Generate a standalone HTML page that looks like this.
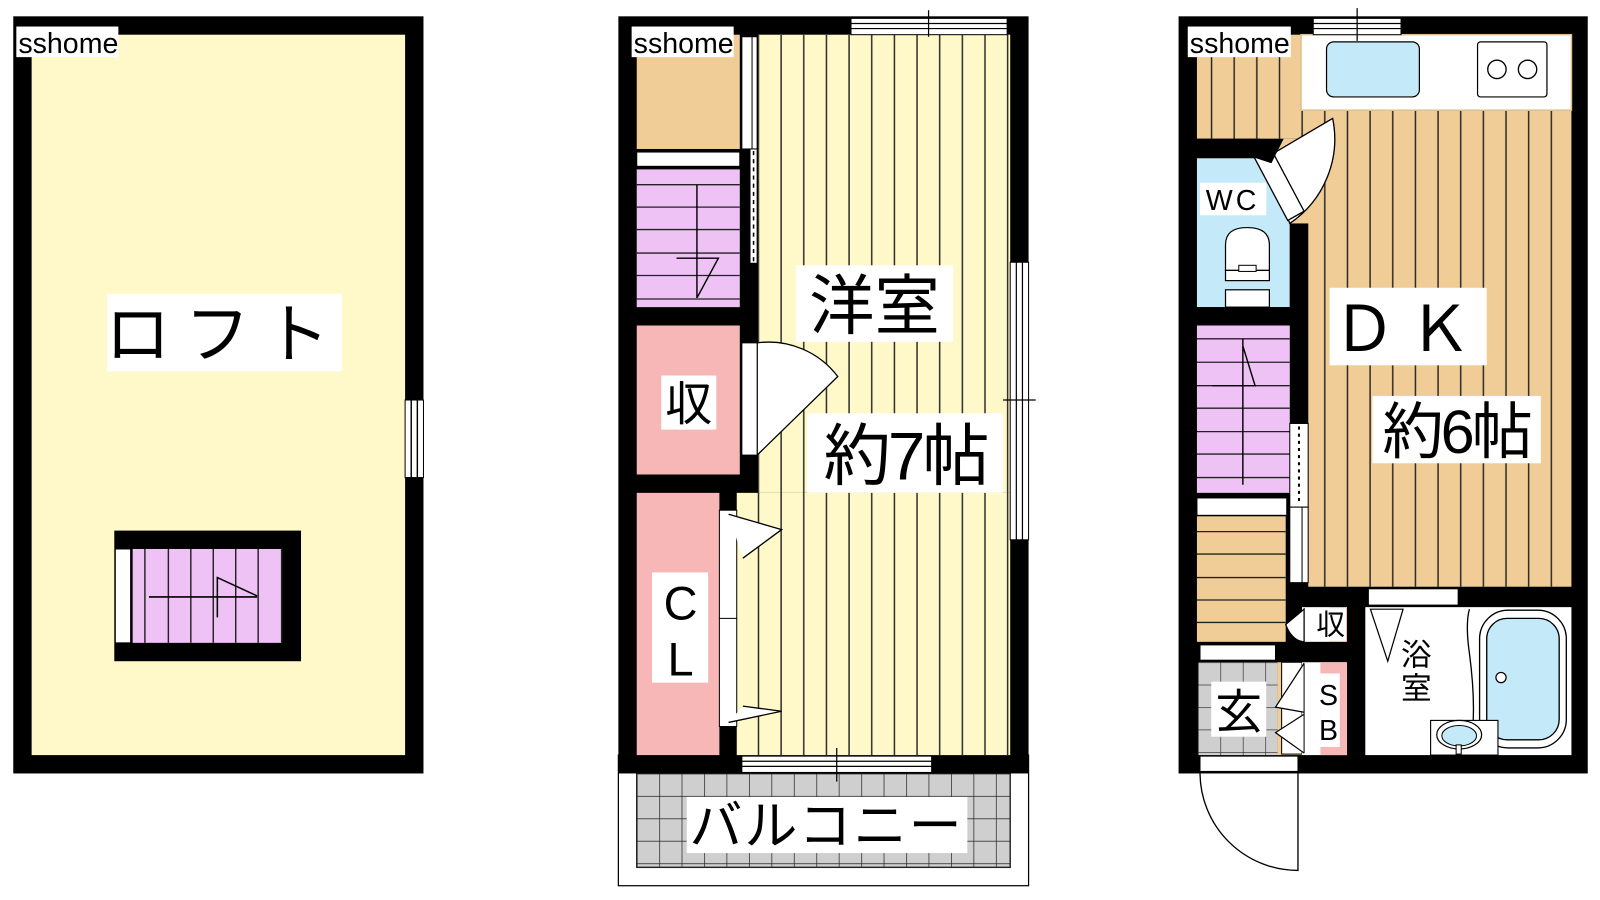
<!DOCTYPE html>
<html><head><meta charset="utf-8"><style>
html,body{margin:0;padding:0;background:#fff;width:1600px;height:900px;overflow:hidden}
svg{display:block}
text{font-family:"Liberation Sans","Noto Sans CJK JP",sans-serif;fill:#000}
</style></head><body>
<svg width="1600" height="900" viewBox="0 0 1568 882" preserveAspectRatio="none" xmlns="http://www.w3.org/2000/svg">
<defs>
<pattern id="vl" x="0" y="0" width="22.2" height="10" patternUnits="userSpaceOnUse"><rect x="10" y="0" width="1.4" height="10" fill="#222"/></pattern>
<pattern id="grid" x="624" y="758" width="22" height="22" patternUnits="userSpaceOnUse"><rect width="22" height="22" fill="#cfcfcf"/><path d="M0 0H22M0 0V22" stroke="#222" stroke-width="1.4"/></pattern>
<pattern id="grid2" x="1174" y="649" width="22" height="22" patternUnits="userSpaceOnUse"><rect width="22" height="22" fill="#cfcfcf"/><path d="M0 0H22M0 0V22" stroke="#222" stroke-width="1.2"/></pattern>
</defs>

<!-- ============ LEFT: LOFT ============ -->
<rect x="13" y="16" width="402" height="742" fill="#000"/>
<rect x="31" y="34" width="366" height="706" fill="#fff9c9"/>
<rect x="397" y="392" width="18" height="76" fill="#fff" stroke="#000" stroke-width="1"/>
<path d="M403 392V468M409 392V468" stroke="#000" stroke-width="1.4"/>
<rect x="112" y="520" width="183" height="128" fill="#000"/>
<rect x="113" y="538" width="15" height="92" fill="#fff" stroke="#000" stroke-width="1"/>
<rect x="130" y="538" width="146" height="92" fill="#eec2f5"/>
<path d="M142 538V630M165 538V630M187 538V630M209 538V630M231 538V630M253 538V630M276 538V630" stroke="#222" stroke-width="1.4"/>
<path d="M146 585H252M213 605V566L252 584" stroke="#000" stroke-width="1.5" fill="none"/>
<rect x="105" y="288" width="230" height="76" fill="#fff"/>
<text x="220" y="350" font-size="64" text-anchor="middle" letter-spacing="14">ロフト</text>
<rect x="16" y="26" width="100" height="30" fill="#fff"/>
<text x="18" y="52" font-size="28">sshome</text>

<!-- ============ MIDDLE ============ -->
<rect x="606" y="740" width="402" height="128" fill="#fff" stroke="#000" stroke-width="1.2"/>
<rect x="624" y="758" width="366" height="92" fill="url(#grid)" stroke="#222" stroke-width="1.4"/>
<rect x="606" y="16" width="402" height="742" fill="#000"/>
<rect x="743" y="34" width="247" height="449" fill="#fff9c9"/>
<rect x="722" y="483" width="268" height="257" fill="#fff9c9"/>
<rect x="722" y="34" width="268" height="706" fill="url(#vl)" clip-path="url(#roomclip)"/>
<clipPath id="roomclip"><path d="M743 34H990V740H722V483H743Z"/></clipPath>
<!-- left column -->
<rect x="624" y="34" width="101" height="112" fill="#f0cc96"/>
<rect x="624" y="149" width="101" height="14" fill="#fff" stroke="#000" stroke-width="1"/>
<rect x="624" y="166" width="101" height="135" fill="#eec2f5"/>
<path d="M624 181H725M624 203H725M624 225H725M624 248H725M624 270H725M624 293H725" stroke="#222" stroke-width="1.3"/>
<path d="M683 181V292M663 253H704L683 292" stroke="#000" stroke-width="1.4" fill="none"/>
<rect x="624" y="319" width="101" height="146" fill="#f8b7b7"/>
<rect x="624" y="483" width="81" height="257" fill="#f8b7b7"/>
<rect x="727" y="36" width="15" height="110" fill="#fff" stroke="#000" stroke-width="1"/>
<path d="M737 36V146" stroke="#000" stroke-width="1"/>
<rect x="735" y="146" width="7" height="112" fill="#fff" stroke="#000" stroke-width="1"/>
<path d="M738.5 148V258" stroke="#000" stroke-width="1.5" stroke-dasharray="4 4"/>
<!-- 収 door -->
<path d="M742 336A85 85 0 0 1 821 369L742 446Z" fill="#fff" stroke="#000" stroke-width="1.3"/>
<rect x="727" y="336" width="15" height="110" fill="#fff" stroke="#000" stroke-width="1"/>
<!-- CL doors -->
<rect x="705" y="500" width="17" height="212" fill="#fff" stroke="#000" stroke-width="1"/>
<path d="M705 606H722" stroke="#000" stroke-width="1"/>
<path d="M714 504L766 519L728 547" fill="#fff" stroke="#000" stroke-width="1.3"/>
<path d="M714 708L766 697L728 692" fill="#fff" stroke="#000" stroke-width="1.3"/>
<!-- windows -->
<rect x="834" y="18" width="153" height="16" fill="#fff" stroke="#000" stroke-width="1"/>
<path d="M834 23H987M834 28H987M910 10V36" stroke="#000" stroke-width="1.2"/>
<rect x="990" y="257" width="18" height="272" fill="#fff" stroke="#000" stroke-width="1"/>
<path d="M996 257V529M1002 257V529M983 392H1015" stroke="#000" stroke-width="1.2"/>
<rect x="727" y="741" width="186" height="16" fill="#fff" stroke="#000" stroke-width="1"/>
<path d="M727 746H913M727 751H913M820 733V766" stroke="#000" stroke-width="1.2"/>
<!-- labels -->
<rect x="780" y="260" width="154" height="75" fill="#fff"/>
<text x="857" y="322" font-size="64" text-anchor="middle">洋室</text>
<rect x="791" y="405" width="192" height="78" fill="#fff"/>
<text x="887" y="470" font-size="66" text-anchor="middle" letter-spacing="-3">約7帖</text>
<rect x="648" y="368" width="54" height="53" fill="#fff"/>
<text x="675" y="412" font-size="46" text-anchor="middle">収</text>
<rect x="639" y="561" width="55" height="108" fill="#fff"/>
<text x="667" y="607" font-size="46" text-anchor="middle">C</text>
<text x="667" y="662" font-size="46" text-anchor="middle">L</text>
<rect x="673" y="781" width="275" height="55" fill="#fff"/>
<text x="810" y="827" font-size="52" text-anchor="middle" letter-spacing="2">バルコニー</text>
<rect x="619" y="26" width="100" height="30" fill="#fff"/>
<text x="621" y="52" font-size="28">sshome</text>

<!-- ============ RIGHT ============ -->
<rect x="1155" y="16" width="401" height="742" fill="#000"/>
<rect x="1173" y="34" width="110" height="102" fill="#f0cc96"/>
<rect x="1173" y="34" width="110" height="102" fill="url(#vl)"/>
<rect x="1282" y="34" width="258" height="541" fill="#f0cc96"/>
<rect x="1282" y="34" width="258" height="541" fill="url(#vl)"/>
<rect x="1235" y="136" width="48" height="83" fill="#f0cc96"/>
<!-- counter -->
<rect x="1275" y="34" width="265" height="74" fill="#fff" stroke="#e0c090" stroke-width="1.5"/>
<rect x="1300" y="41" width="91" height="54" rx="7" fill="#c4e9f8" stroke="#000" stroke-width="1.2"/>
<rect x="1448" y="41" width="68" height="54" rx="3" fill="#fff" stroke="#000" stroke-width="1.2"/>
<circle cx="1467" cy="68" r="9" fill="none" stroke="#000" stroke-width="1.3"/>
<circle cx="1497" cy="68" r="9" fill="none" stroke="#000" stroke-width="1.3"/>
<!-- WC -->
<rect x="1173" y="155" width="91" height="146" fill="#c4e9f8"/>
<rect x="1173" y="136" width="62" height="19" fill="#000"/>
<rect x="1264" y="219" width="18" height="356" fill="#000"/>
<path d="M1240 155L1306 116A100 100 0 0 1 1264 219Z" fill="#fff" stroke="#000" stroke-width="1.3"/>
<path d="M1228 152L1244 143L1278 207L1262 216Z" fill="#fff" stroke="#000" stroke-width="1.3"/>
<path d="M1173 136H1258L1246 160Z" fill="#000"/>
<rect x="1176" y="179" width="65" height="32" fill="#fff"/>
<text x="1208" y="206" font-size="28" text-anchor="middle" letter-spacing="3">WC</text>
<path d="M1201 265V240Q1201 223 1222 223Q1244 223 1244 240V265Z" fill="#fff" stroke="#000" stroke-width="1.2"/>
<rect x="1201" y="265" width="43" height="10" fill="#fff" stroke="#000" stroke-width="1.2"/>
<rect x="1214" y="260" width="17" height="6" fill="#fff" stroke="#000" stroke-width="1"/>
<rect x="1201" y="284" width="43" height="17" fill="#fff" stroke="#000" stroke-width="1.2"/>
<rect x="1173" y="301" width="91" height="18" fill="#000"/>
<!-- stairs -->
<rect x="1173" y="319" width="91" height="164" fill="#eec2f5"/>
<path d="M1173 332H1264M1173 355H1264M1173 378H1264M1173 400H1264M1173 423H1264M1173 445H1264M1173 468H1264" stroke="#222" stroke-width="1.3"/>
<path d="M1218 332V475M1188 378H1230L1218 339" stroke="#000" stroke-width="1.4" fill="none"/>
<rect x="1173" y="488" width="88" height="17" fill="#fff" stroke="#000" stroke-width="1"/>
<rect x="1173" y="506" width="87" height="123" fill="#f0cc96"/>
<path d="M1173 521H1260M1173 543H1260M1173 566H1260M1173 588H1260M1173 610H1260" stroke="#222" stroke-width="1.3"/>
<rect x="1264" y="415" width="18" height="82" fill="#fff" stroke="#000" stroke-width="1"/>
<path d="M1273 418V495" stroke="#000" stroke-width="2" stroke-dasharray="3 4"/>
<rect x="1264" y="497" width="18" height="74" fill="#fff" stroke="#000" stroke-width="1"/>
<path d="M1276 497V571" stroke="#000" stroke-width="1"/>
<!-- bath -->
<rect x="1338" y="595" width="202" height="145" fill="#fff"/>
<rect x="1341" y="577" width="88" height="16" fill="#fff" stroke="#000" stroke-width="1"/>
<path d="M1343 597L1375 597L1360 648Z" fill="#fff" stroke="#000" stroke-width="1.2"/>
<path d="M1440 597Q1436 612 1440 640Q1448 700 1440 740" stroke="#000" stroke-width="1.3" fill="none"/>
<rect x="1450" y="598" width="85" height="135" rx="28" fill="#fff" stroke="#000" stroke-width="1.3"/>
<rect x="1457" y="606" width="71" height="119" rx="20" fill="#c4e9f8" stroke="#000" stroke-width="1.3"/>
<circle cx="1471" cy="664" r="5" fill="#fff" stroke="#000" stroke-width="1.2"/>
<rect x="1402" y="706" width="66" height="34" fill="#fff" stroke="#000" stroke-width="1.1"/>
<ellipse cx="1430" cy="720" rx="22" ry="14" fill="#fff" stroke="#000" stroke-width="1.2"/>
<ellipse cx="1430" cy="721" rx="17" ry="10" fill="#c4e9f8" stroke="#000" stroke-width="1"/>
<rect x="1427" y="730" width="5" height="9" fill="#fff" stroke="#000"/>
<text x="1388" y="652" font-size="30" text-anchor="middle">浴</text>
<text x="1388" y="685" font-size="30" text-anchor="middle">室</text>
<!-- 収 small -->
<rect x="1276" y="595" width="44" height="34" fill="#fff"/>
<rect x="1303" y="595" width="17" height="34" fill="#f8b7b7"/>
<rect x="1286" y="596" width="33" height="32" fill="#fff"/>
<path d="M1278 597L1260 612Q1266 628 1278 629Z" fill="#fff" stroke="#000" stroke-width="1.2"/>
<path d="M1278 596V629" stroke="#000" stroke-width="1"/>
<text x="1304" y="622" font-size="28" text-anchor="middle">収</text>
<!-- genkan -->
<rect x="1176" y="632" width="74" height="15" fill="#fff" stroke="#000" stroke-width="1"/>
<rect x="1174" y="649" width="78" height="91" fill="url(#grid2)"/>
<rect x="1252" y="649" width="24" height="91" fill="#f0cc96"/>
<rect x="1256" y="649" width="20" height="90" fill="#fff" stroke="#000" stroke-width="1"/>
<rect x="1187" y="668" width="54" height="54" fill="#fff"/>
<text x="1214" y="714" font-size="46" text-anchor="middle">玄</text>
<rect x="1276" y="649" width="44" height="91" fill="#fff"/>
<rect x="1294" y="649" width="26" height="91" fill="#f8b7b7"/>
<rect x="1294" y="660" width="19" height="72" fill="#fff"/>
<path d="M1278 650L1250 693L1278 698M1278 700L1250 718L1278 738" fill="#fff" stroke="#000" stroke-width="1.2"/>
<path d="M1278 650V738" stroke="#000" stroke-width="1"/>
<text x="1302" y="691" font-size="28" text-anchor="middle">S</text>
<text x="1302" y="725" font-size="28" text-anchor="middle">B</text>
<rect x="1287" y="18" width="86" height="16" fill="#fff" stroke="#000" stroke-width="1"/>
<path d="M1287 23H1373M1287 28H1373M1330 8V40" stroke="#000" stroke-width="1.2"/>
<rect x="1176" y="741" width="96" height="15" fill="#fff" stroke="#000" stroke-width="1"/>
<path d="M1176 758A96 96 0 0 0 1272 853V758" fill="#fff" stroke="#000" stroke-width="1.3"/>
<rect x="1303" y="282" width="154" height="76" fill="#fff"/>
<text x="1380" y="344" font-size="62" text-anchor="middle" letter-spacing="12">ＤＫ</text>
<rect x="1345" y="388" width="165" height="66" fill="#fff"/>
<text x="1427" y="444" font-size="60" text-anchor="middle" letter-spacing="-3">約6帖</text>
<rect x="1164" y="26" width="101" height="30" fill="#fff"/>
<text x="1166" y="52" font-size="28">sshome</text>
</svg>
</body></html>
